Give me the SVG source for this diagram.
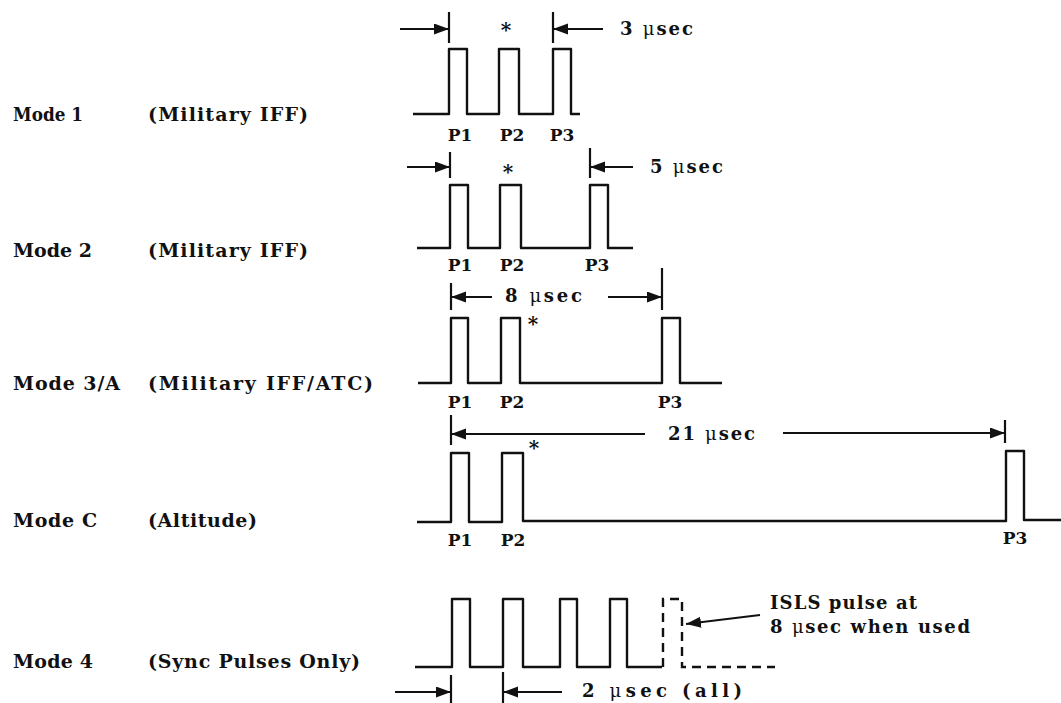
<svg xmlns="http://www.w3.org/2000/svg" width="1061" height="703" viewBox="0 0 1061 703">
<style>
text{font-family:"DejaVu Serif","Liberation Serif",serif;font-weight:bold;fill:#111}
.lab{font-size:19px}
.p{font-size:17px;text-anchor:middle}
.dim{font-size:18px}
.mu{font-weight:normal}
.ast{font-size:20px;text-anchor:middle}
.pulse{fill:none;stroke:#111;stroke-width:2.4;stroke-linejoin:round}
.dash{fill:none;stroke:#111;stroke-width:2.4;stroke-dasharray:9 6}
.tick{stroke:#111;stroke-width:2.2}
.arr{stroke:#111;stroke-width:2.2;fill:none;marker-end:url(#ah)}
</style>
<defs>
<marker id="ah" markerUnits="userSpaceOnUse" markerWidth="16" markerHeight="12" refX="15" refY="5.5" orient="auto">
<path d="M0,0 L15,5.5 L0,11 z" fill="#111"/>
</marker>
</defs>
<rect width="1061" height="703" fill="#fff"/>

<g id="mode1">
<text class="lab" x="13" y="121" textLength="70" lengthAdjust="spacingAndGlyphs">Mode 1</text>
<text class="lab" x="148" y="121" textLength="160" lengthAdjust="spacing">(Military IFF)</text>
<path class="pulse" d="M413,114 H449 V49 H467 V114 H499 V49 H519 V114 H553 V49 H571 V114 H580"/>
<text class="p" x="460" y="141">P1</text>
<text class="p" x="512" y="141">P2</text>
<text class="p" x="562" y="141">P3</text>
<text class="ast" x="506" y="37">*</text>
<text class="dim" x="620" y="35" textLength="73" lengthAdjust="spacing">3 <tspan class="mu">μ</tspan>sec</text>
</g>

<g id="mode2">
<text class="lab" x="13" y="257" textLength="79" lengthAdjust="spacing">Mode 2</text>
<text class="lab" x="148" y="257" textLength="160" lengthAdjust="spacing">(Military IFF)</text>
<path class="pulse" d="M417,248 H450 V185 H468 V248 H500 V185 H521 V248 H590 V185 H608 V248 H633"/>
<text class="p" x="460" y="271">P1</text>
<text class="p" x="512" y="271">P2</text>
<text class="p" x="597" y="271">P3</text>
<text class="ast" x="508" y="179">*</text>
<text class="dim" x="650" y="173" textLength="73" lengthAdjust="spacing">5 <tspan class="mu">μ</tspan>sec</text>
</g>

<g id="mode3a">
<text class="lab" x="13" y="390" textLength="107" lengthAdjust="spacing">Mode 3/A</text>
<text class="lab" x="148" y="390" textLength="225" lengthAdjust="spacing">(Military IFF/ATC)</text>
<path class="pulse" d="M418,383 H451 V318 H468 V383 H501 V318 H520 V383 H662 V318 H680 V383 H722"/>
<text class="p" x="460" y="408">P1</text>
<text class="p" x="512" y="408">P2</text>
<text class="p" x="670" y="408">P3</text>
<text class="ast" x="533" y="331">*</text>
<text class="dim" x="505" y="302" textLength="77" lengthAdjust="spacing">8 <tspan class="mu">μ</tspan>sec</text>
</g>

<g id="modeC">
<text class="lab" x="13" y="527" textLength="84" lengthAdjust="spacing">Mode C</text>
<text class="lab" x="148" y="527" textLength="109" lengthAdjust="spacing">(Altitude)</text>
<path class="pulse" d="M417,522 H451 V453 H469 V522 H502 V453 H523 V521 H1006 V451 H1024 V520 H1061"/>
<text class="p" x="460" y="546">P1</text>
<text class="p" x="513" y="546">P2</text>
<text class="p" x="1015" y="544">P3</text>
<text class="ast" x="534" y="455">*</text>
<text class="dim" x="668" y="440" textLength="87" lengthAdjust="spacing">21 <tspan class="mu">μ</tspan>sec</text>
</g>

<g id="mode4">
<text class="lab" x="13" y="668" textLength="80" lengthAdjust="spacing">Mode 4</text>
<text class="lab" x="148" y="668" textLength="212" lengthAdjust="spacing">(Sync Pulses Only)</text>
<path class="pulse" d="M415,667 H452 V599 H470 V667 H503 V599 H523 V667 H560 V599 H577 V667 H610 V599 H627 V667 H662"/>
<path class="dash" d="M663,667 V599 H682 V667 H775"/>
<text class="dim" x="582" y="697" textLength="160" lengthAdjust="spacing">2 <tspan class="mu">μ</tspan>sec (all)</text>
<text class="dim" x="770" y="609" textLength="147" lengthAdjust="spacing">ISLS pulse at</text>
<text class="dim" x="770" y="633" textLength="200" lengthAdjust="spacing">8 <tspan class="mu">μ</tspan>sec when used</text>
</g>

<g id="connectors">
<line class="tick" x1="449" y1="12" x2="449" y2="43"/>
<line class="tick" x1="553" y1="12" x2="553" y2="43"/>
<line class="arr" x1="400" y1="29" x2="449" y2="29"/>
<line class="arr" x1="603" y1="29" x2="553" y2="29"/>

<line class="tick" x1="450" y1="152" x2="450" y2="178"/>
<line class="tick" x1="590" y1="148" x2="590" y2="178"/>
<line class="arr" x1="407" y1="167" x2="450" y2="167"/>
<line class="arr" x1="633" y1="167" x2="590" y2="167"/>

<line class="tick" x1="451" y1="283" x2="451" y2="310"/>
<line class="tick" x1="662" y1="268" x2="662" y2="310"/>
<line class="arr" x1="492" y1="297" x2="451" y2="297"/>
<line class="arr" x1="608" y1="297" x2="662" y2="297"/>

<line class="tick" x1="451" y1="415" x2="451" y2="445"/>
<line class="tick" x1="1005" y1="420" x2="1005" y2="443"/>
<line class="arr" x1="645" y1="434" x2="451" y2="434"/>
<line class="arr" x1="783" y1="433" x2="1005" y2="433"/>

<line class="tick" x1="451" y1="675" x2="451" y2="703"/>
<line class="tick" x1="503" y1="672" x2="503" y2="703"/>
<line class="arr" x1="395" y1="692" x2="451" y2="692"/>
<line class="arr" x1="562" y1="692" x2="503" y2="692"/>

<line class="arr" x1="760" y1="615" x2="686" y2="624"/>
</g>
</svg>
